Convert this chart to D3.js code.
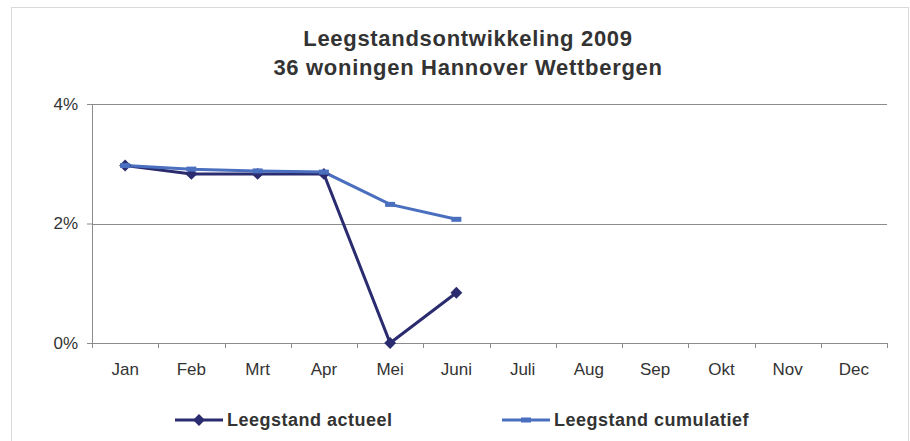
<!DOCTYPE html>
<html>
<head>
<meta charset="utf-8">
<script src="https://cdn.jsdelivr.net/npm/d3@7"></script>
<style>
  body { margin: 0; background: #fff; }
  text { font-family: "Liberation Sans", Arial, sans-serif; }
</style>
</head>
<body>
<div id="chart"></div>
<script>
// maanden en leegstand in procenten
var months = ["Jan", "Feb", "Mrt", "Apr", "Mei", "Juni", "Juli", "Aug", "Sep", "Okt", "Nov", "Dec"];
var actueel = [2.97, 2.83, 2.83, 2.83, 0, 0.84];
var cumulatief = [2.97, 2.91, 2.88, 2.86, 2.32, 2.07];
var yTicks = [0, 2, 4];

(function () {
    var width = 910, height = 441;
    var margin = { top: 104, right: 23, bottom: 98, left: 92 };

    var svg = d3.select('#chart')
                .append('svg')
                .attr('width', width)
                .attr('height', height);

    // lichte rand om de grafiek
    svg.append('rect')
        .attr('x', 11.5).attr('y', 7.5)
        .attr('width', 897).attr('height', 440)
        .attr('fill', 'none')
        .attr('stroke', '#d9d9d9');

    var title = svg.append('text')
        .attr('text-anchor', 'middle')
        .style('font-size', '22px')
        .style('font-weight', 'bold')
        .style('letter-spacing', '0.7px')
        .style('fill', '#333');
    title.append('tspan').attr('x', 468).attr('y', 46).text('Leegstandsontwikkeling 2009');
    title.append('tspan').attr('x', 468).attr('y', 75).text('36 woningen Hannover Wettbergen');

    var w = width - margin.left - margin.right,
        h = height - margin.top - margin.bottom;

    var g = svg.append('g')
        .attr('transform', 'translate(' + margin.left + ',' + margin.top + ')');

    var xScale = d3.scaleBand().domain(months).range([0, w]);
    var yScale = d3.scaleLinear().domain([0, 4]).range([h, 0]);

    // gridlines
    g.selectAll('.grid')
        .data(yTicks)
        .enter()
        .append('line')
        .attr('x1', 0).attr('x2', w)
        .attr('y1', function(d) { return Math.round(yScale(d)) + 0.5; })
        .attr('y2', function(d) { return Math.round(yScale(d)) + 0.5; })
        .attr('stroke', '#8c8c8c');

    // y axis
    var yAxis = g.append('g')
        .call(d3.axisLeft(yScale).tickValues(yTicks).tickSize(5).tickPadding(9)
            .tickFormat(function(d) { return d + '%'; }));
    yAxis.select('.domain').attr('stroke', '#8c8c8c');
    yAxis.selectAll('line').attr('stroke', '#8c8c8c');
    yAxis.selectAll('text').style('font-size', '17px').style('fill', '#333')
        .style('font-family', '"Liberation Sans", Arial, sans-serif');

    // x axis with ticks between categories
    var xAxis = g.append('g')
        .attr('transform', 'translate(0,' + h + ')')
        .call(d3.axisBottom(xScale).tickSize(0).tickPadding(20));
    xAxis.select('.domain').remove();
    xAxis.selectAll('text').style('font-size', '17px').style('fill', '#333')
        .style('font-family', '"Liberation Sans", Arial, sans-serif');
    g.selectAll('.xtick')
        .data(d3.range(months.length + 1))
        .enter()
        .append('line')
        .attr('x1', function(i) { return Math.round(i * xScale.step()) + 0.5; })
        .attr('x2', function(i) { return Math.round(i * xScale.step()) + 0.5; })
        .attr('y1', h).attr('y2', h + 5)
        .attr('stroke', '#8c8c8c');

    var cx = function(d, i) { return xScale(months[i]) + xScale.bandwidth() / 2; };
    var line = d3.line()
        .x(cx)
        .y(function(d) { return yScale(d); });

    var cActueel = '#2b2b6f', cCum = '#4a6fbf';

    g.append('path')
        .datum(actueel)
        .attr('d', line)
        .attr('fill', 'none')
        .attr('stroke', cActueel)
        .attr('stroke-width', 3);

    g.append('path')
        .datum(cumulatief)
        .attr('d', line)
        .attr('fill', 'none')
        .attr('stroke', cCum)
        .attr('stroke-width', 3);

    // diamant markers
    var diamond = d3.symbol().type(d3.symbolDiamond2).size(90);
    g.selectAll('.dia')
        .data(actueel)
        .enter()
        .append('path')
        .attr('d', diamond)
        .attr('transform', function(d, i) { return 'translate(' + cx(d, i) + ',' + yScale(d) + ')'; })
        .attr('fill', cActueel);

    // streep markers
    g.selectAll('.dash')
        .data(cumulatief)
        .enter()
        .append('rect')
        .attr('x', function(d, i) { return cx(d, i) - 5; })
        .attr('y', function(d) { return yScale(d) - 2.5; })
        .attr('width', 10).attr('height', 5)
        .attr('fill', cCum);

    // legend
    var legend = svg.append('g');
    var items = [
        { name: 'Leegstand actueel', color: cActueel, x: 175, marker: 'diamond' },
        { name: 'Leegstand cumulatief', color: cCum, x: 502, marker: 'dash' }
    ];
    items.forEach(function(it) {
        legend.append('line')
            .attr('x1', it.x).attr('x2', it.x + 48)
            .attr('y1', 420).attr('y2', 420)
            .attr('stroke', it.color).attr('stroke-width', 3);
        if (it.marker === 'diamond') {
            legend.append('path')
                .attr('d', diamond)
                .attr('transform', 'translate(' + (it.x + 24) + ',420)')
                .attr('fill', it.color);
        } else {
            legend.append('rect')
                .attr('x', it.x + 19).attr('y', 417.5)
                .attr('width', 10).attr('height', 5)
                .attr('fill', it.color);
        }
        legend.append('text')
            .attr('x', it.x + 52).attr('y', 426)
            .text(it.name)
            .style('font-size', '18px')
            .style('font-weight', 'bold')
            .style('letter-spacing', '0.5px')
            .style('fill', '#333');
    });
})();
</script>
</body>
</html>
